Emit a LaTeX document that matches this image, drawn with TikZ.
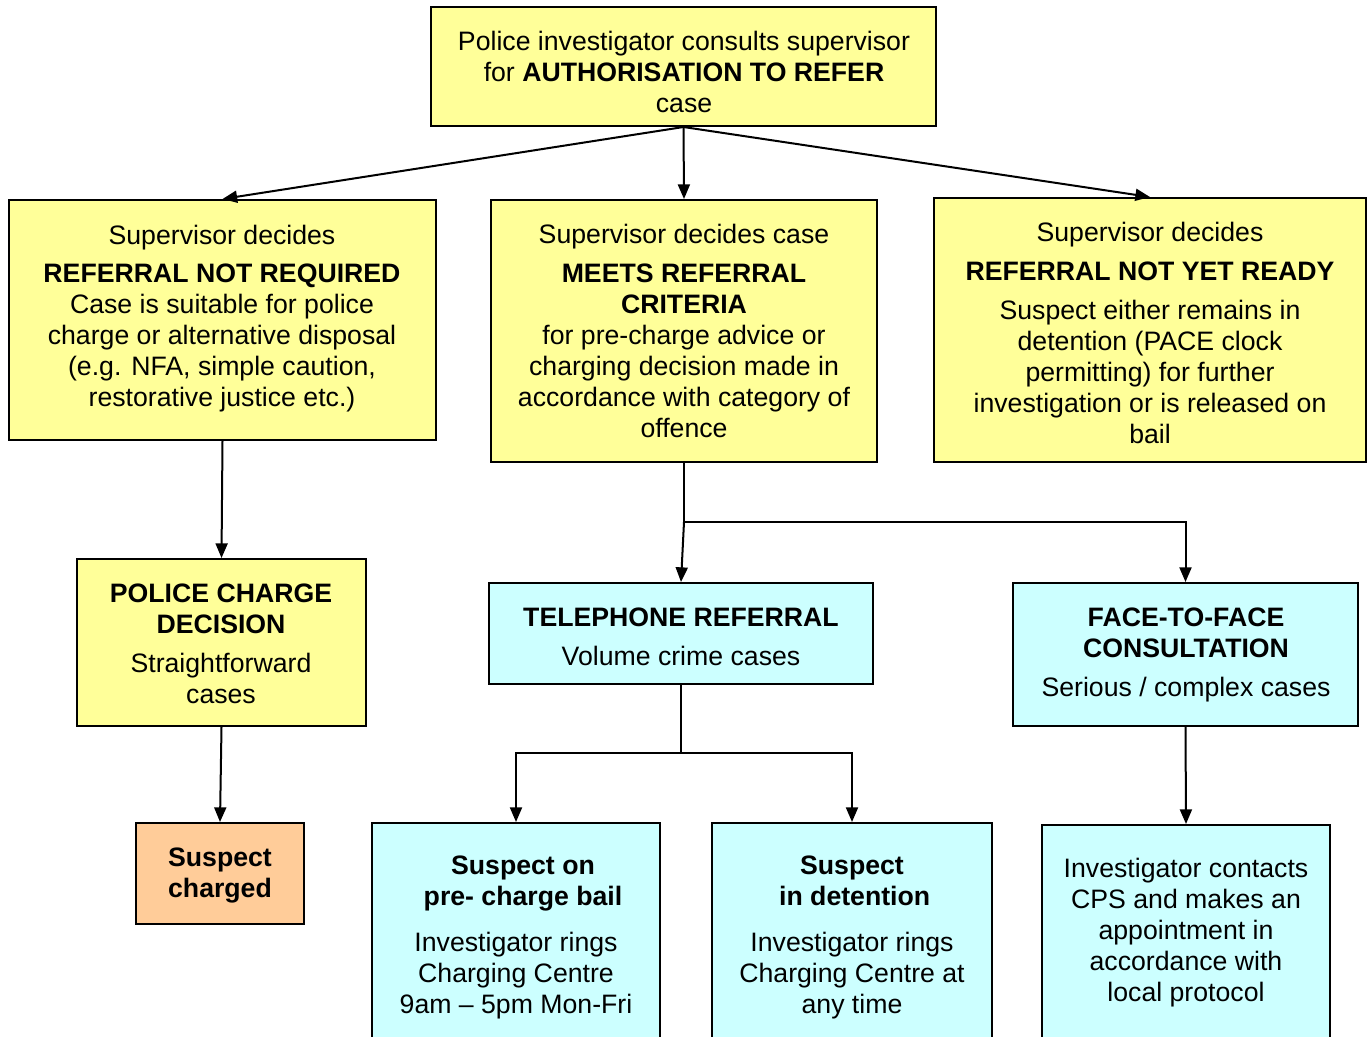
\documentclass[tikz,border=0pt]{standalone}
\usepackage{fontspec}
\setmainfont{Liberation Sans}
\usetikzlibrary{fit,arrows.meta}
\definecolor{boxyellow}{HTML}{FFFF99}
\definecolor{boxcyan}{HTML}{CCFFFF}
\definecolor{boxorange}{HTML}{FFCC99}
\begin{document}
\begin{tikzpicture}[x=0.75pt,y=-0.75pt,
  box/.style={draw=black, line width=1.5pt, inner sep=0pt},
  ybox/.style={box, fill=boxyellow},
  cbox/.style={box, fill=boxcyan},
  obox/.style={box, fill=boxorange},
  txt/.style={anchor=north, align=center, inner sep=0pt, font=\fontsize{20}{23.25}\selectfont},
  arr/.style={line width=1.5pt, -{Triangle[length=11pt,width=9pt]}},
  ln/.style={line width=1.5pt}]
\clip (0,0) rectangle (1369,1036);
\fill[white] (0,0) rectangle (1369,1036);
% boxes
\node[ybox, fit={(431,7) (936,126)}] (top) {};
\node[ybox, fit={(9,200) (436,440)}] (l1) {};
\node[ybox, fit={(491,200) (877,462)}] (m1) {};
\node[ybox, fit={(934,198) (1366,462)}] (r1) {};
\node[ybox, fit={(77,559) (366,726)}] (pcd) {};
\node[obox, fit={(136,823) (304,924)}] (sc) {};
\node[cbox, fit={(489,583) (873,684)}] (tel) {};
\node[cbox, fit={(1013,583) (1358,726)}] (f2f) {};
\node[cbox, fit={(372,823) (660,1050)}] (bail) {};
\node[cbox, fit={(712,823) (992,1050)}] (det) {};
\node[cbox, fit={(1042,825) (1330,1050)}] (cps) {};
% texts
\node[txt] (topt) at (684,31) {Police investigator consults supervisor\\for \textbf{AUTHORISATION TO REFER}\\case};
\node[txt] (l1t) at (222,225) {Supervisor decides\\[5.5pt]\textbf{REFERRAL NOT REQUIRED}\\Case is suitable for police\\charge or alternative disposal\\(e.g. NFA, simple caution,\\restorative justice etc.)};
\node[txt] (m1t) at (684,224) {Supervisor decides case\\[6pt]\textbf{MEETS REFERRAL}\\\textbf{CRITERIA}\\for pre-charge advice or\\charging decision made in\\accordance with category of\\offence};
\node[txt] (r1t) at (1150,222) {Supervisor decides\\[6pt]\textbf{REFERRAL NOT YET READY}\\[6pt]Suspect either remains in\\detention (PACE clock\\permitting) for further\\investigation or is released on\\bail};
\node[txt] (pcdt) at (221,584) {\textbf{POLICE CHARGE}\\\textbf{DECISION}\\[5.5pt]Straightforward\\cases};
\node[txt] (sct) at (220,848) {\textbf{Suspect}\\\textbf{charged}};
\node[txt] (telt) at (681,608) {\textbf{TELEPHONE REFERRAL}\\[6pt]Volume crime cases};
\node[txt] (f2ft) at (1186,608) {\textbf{FACE-TO-FACE}\\\textbf{CONSULTATION}\\[5.5pt]Serious / complex cases};
\node[txt] (bailt) at (516,856) {\hspace*{10.5pt}\textbf{Suspect on}\\\hspace*{10.5pt}\textbf{pre- charge bail}\\[11pt]Investigator rings\\Charging Centre\\9am -- 5pm Mon-Fri};
\node[txt] (dett) at (852,856) {\textbf{Suspect}\\\hspace*{4pt}\textbf{in detention}\\[11pt]Investigator rings\\Charging Centre at\\any time};
\node[txt] (cpst) at (1186,858) {Investigator contacts\\CPS and makes an\\appointment in\\accordance with\\local protocol};
% connectors
\draw[arr] (top.south) -- (l1.north);
\draw[arr] (top.south) -- (m1.north);
\draw[arr] (top.south) -- (r1.north);
\draw[arr] (l1.south) -- (pcd.north);
\draw[arr] (pcd.south) -- (sc.north);
\coordinate (j1) at (684,522);
\draw[ln] (m1.south) -- (j1);
\draw[arr] (j1) -- (tel.north);
\draw[arr] (j1) -| (f2f.north);
\coordinate (j2) at (681,753);
\draw[ln] (tel.south) -- (j2);
\draw[arr] (j2) -| (bail.north);
\draw[arr] (j2) -| (det.north);
\draw[arr] (f2f.south) -- (cps.north);
\end{tikzpicture}
\end{document}
